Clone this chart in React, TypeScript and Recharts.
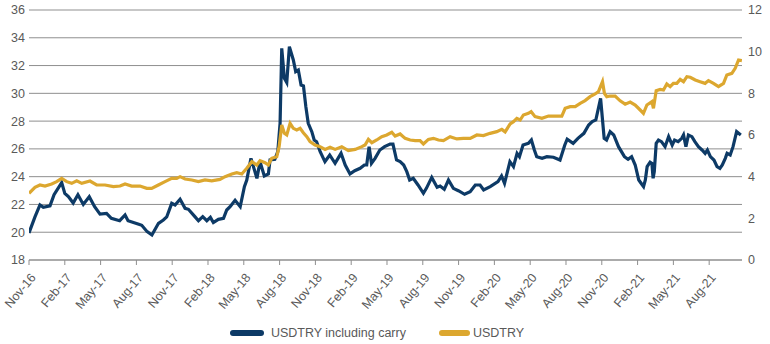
import { CartesianGrid, Line, LineChart, XAxis, YAxis } from "recharts";

// x positions are months since Nov-16
const tickMonths = [0, 3, 6, 9, 12, 15, 18, 21, 24, 27, 30, 33, 36, 39, 42, 45, 48, 51, 54, 57];
const tickLabels = [
  "Nov-16", "Feb-17", "May-17", "Aug-17", "Nov-17", "Feb-18", "May-18", "Aug-18", "Nov-18", "Feb-19",
  "May-19", "Aug-19", "Nov-19", "Feb-20", "May-20", "Aug-20", "Nov-20", "Feb-21", "May-21", "Aug-21",
];
const leftTicks = [18, 20, 22, 24, 26, 28, 30, 32, 34, 36];
const rightTicks = [0, 2, 4, 6, 8, 10, 12];

const carryMonths = [
  0, 0.5, 0.92, 1.2, 1.76, 2.1, 2.74, 3.0, 3.3, 3.7, 4.1, 4.55, 5.05, 5.5, 5.95, 6.5, 6.9, 7.6, 8.05, 8.3,
  9.2, 9.45, 9.9, 10.3, 10.85, 11.26, 11.54, 11.96, 12.24, 12.66, 13.08, 13.36, 13.9, 14.2, 14.56, 14.9, 15.2, 15.45, 15.87, 16.3,
  16.57, 16.85, 17.27, 17.7, 18.05, 18.25, 18.6, 19.1, 19.36, 19.72, 20.06, 20.2, 20.6, 20.85, 21.04, 21.18, 21.4, 21.6, 21.82, 22.15,
  22.35, 22.57, 22.8, 23.0, 23.2, 23.4, 23.7, 23.9, 24.1, 24.4, 24.8, 25.2, 25.65, 26.15, 26.5, 26.9, 27.3, 27.75, 28.1, 28.3,
  28.5, 28.7, 29.0, 29.4, 29.8, 30.26, 30.5, 30.8, 31.1, 31.4, 31.66, 31.9, 32.2, 32.6, 33.05, 33.3, 33.75, 34.2, 34.45, 34.8,
  35.15, 35.56, 35.98, 36.5, 36.97, 37.4, 37.8, 38.1, 38.65, 39.3, 39.6, 39.85, 40.3, 40.6, 40.9, 41.1, 41.4, 41.85, 42.1, 42.35,
  42.55, 43.0, 43.4, 43.95, 44.5, 44.9, 45.1, 45.6, 46.0, 46.5, 46.9, 47.2, 47.5, 47.9, 48.2, 48.4, 48.7, 49.0, 49.4, 49.9,
  50.2, 50.5, 50.8, 51.1, 51.4, 51.5, 51.65, 51.8, 52.05, 52.2, 52.3, 52.4, 52.56, 52.75, 53.0, 53.3, 53.6, 53.9, 54.1, 54.4,
  54.7, 54.85, 55.05, 55.26, 55.55, 55.8, 56.1, 56.4, 56.66, 56.85, 57.1, 57.4, 57.66, 57.9, 58.1, 58.35, 58.5, 58.76, 59.0, 59.3,
  59.65,
];
const carryValues = [
  19.95, 21.1, 21.96, 21.8, 21.9, 22.7, 23.57, 22.8, 22.56, 22.1, 22.7, 22.0, 22.56, 21.84, 21.3, 21.36, 21.0, 20.83, 21.24, 20.83,
  20.57, 20.5, 20.04, 19.8, 20.64, 20.88, 21.1, 22.08, 21.96, 22.37, 21.72, 21.65, 21.12, 20.83, 21.12, 20.83, 21.07, 20.7, 20.93, 21.0,
  21.6, 21.84, 22.3, 21.84, 23.28, 23.76, 25.32, 23.88, 25.08, 24.05, 24.2, 25.2, 25.25, 25.8, 27.84, 33.24, 31.08, 30.77, 33.36, 32.4,
  31.56, 31.68, 30.6, 30.53, 29.04, 27.84, 27.24, 26.64, 26.52, 25.8, 25.08, 25.56, 24.96, 25.68, 24.84, 24.2, 24.43, 24.6, 24.84, 24.84,
  26.16, 24.96, 25.32, 25.92, 26.16, 26.35, 26.35, 25.2, 25.08, 24.84, 24.36, 23.76, 23.88, 23.4, 22.8, 23.16, 23.95, 23.24, 23.33, 23.09,
  23.76, 23.16, 22.99, 22.73, 22.92, 23.4, 23.4, 23.04, 23.28, 23.64, 24.05, 23.52, 25.08, 24.72, 25.68, 25.44, 26.28, 26.4, 26.64, 25.92,
  25.44, 25.32, 25.44, 25.4, 25.2, 26.28, 26.7, 26.4, 26.76, 27.12, 27.72, 27.96, 28.08, 29.64, 26.76, 26.64, 27.24, 27.0, 26.16, 25.44,
  25.25, 25.44, 24.84, 23.76, 23.4, 23.28, 23.76, 24.72, 25.04, 24.96, 23.88, 24.36, 26.4, 26.64, 26.52, 26.16, 26.88, 26.28, 26.64, 26.52,
  26.76, 27.0, 26.16, 27.0, 26.88, 26.52, 26.16, 25.92, 25.68, 25.92, 25.44, 25.2, 24.72, 24.6, 24.84, 25.32, 25.68, 25.56, 26.16, 27.24,
  27.0,
];

const spotMonths = [
  0, 0.5, 0.92, 1.34, 1.9, 2.32, 2.74, 3.16, 3.58, 4.0, 4.42, 5.11, 5.67, 6.37, 7.07, 7.63, 8.05, 8.6, 9.3, 9.87,
  10.28, 10.84, 11.4, 11.96, 12.38, 12.66, 13.08, 13.64, 14.2, 14.75, 15.31, 16.0, 16.43, 17.0, 17.41, 17.83, 18.25, 18.67, 19.09, 19.36,
  19.78, 20.06, 20.34, 20.76, 20.96, 21.18, 21.4, 21.6, 21.88, 22.15, 22.44, 22.72, 22.99, 23.28, 23.55, 23.97, 24.39, 24.81, 25.23, 25.65,
  26.21, 26.76, 27.33, 27.89, 28.16, 28.44, 28.73, 29.14, 29.56, 29.98, 30.4, 30.68, 31.1, 31.52, 31.94, 32.36, 32.77, 33.05, 33.47, 33.89,
  34.31, 34.73, 35.29, 35.85, 36.4, 36.97, 37.53, 38.08, 38.64, 39.2, 39.62, 39.9, 40.32, 40.6, 40.88, 41.16, 41.43, 41.85, 42.08, 42.41,
  42.98, 43.53, 44.09, 44.65, 44.93, 45.35, 45.77, 46.19, 46.6, 47.02, 47.44, 47.72, 48.06, 48.22, 48.42, 48.7, 49.12, 49.54, 49.96, 50.38,
  50.8, 51.22, 51.49, 51.78, 52.2, 52.33, 52.56, 52.89, 53.17, 53.45, 53.73, 54.0, 54.29, 54.57, 54.85, 55.13, 55.41, 55.83, 56.24, 56.66,
  56.94, 57.36, 57.78, 58.2, 58.48, 58.9, 59.18, 59.46, 59.74,
];
const spotValues = [
  3.2, 3.49, 3.6, 3.55, 3.65, 3.76, 3.92, 3.76, 3.68, 3.8, 3.68, 3.79, 3.6, 3.6, 3.52, 3.55, 3.65, 3.55, 3.55, 3.44,
  3.44, 3.6, 3.76, 3.92, 3.92, 4.0, 3.89, 3.84, 3.76, 3.84, 3.8, 3.87, 4.0, 4.13, 4.19, 4.13, 4.4, 4.72, 4.56, 4.77,
  4.67, 4.56, 4.88, 4.96, 5.44, 6.48, 6.08, 6.0, 6.56, 6.32, 6.24, 6.32, 6.11, 5.92, 5.68, 5.52, 5.44, 5.31, 5.41, 5.31,
  5.44, 5.25, 5.31, 5.44, 5.52, 5.79, 5.63, 5.76, 5.92, 6.0, 6.13, 5.95, 6.05, 5.84, 5.76, 5.73, 5.73, 5.57, 5.79, 5.84,
  5.76, 5.73, 5.92, 5.81, 5.84, 5.84, 6.0, 5.97, 6.08, 6.16, 6.27, 6.15, 6.53, 6.64, 6.8, 6.72, 6.96, 7.04, 7.12, 6.88,
  6.8, 6.91, 6.91, 6.91, 7.28, 7.36, 7.36, 7.52, 7.65, 7.84, 7.97, 8.08, 8.56, 8.0, 7.84, 7.87, 7.87, 7.64, 7.48, 7.58,
  7.44, 7.2, 7.04, 7.44, 7.6, 7.28, 8.13, 8.19, 8.16, 8.45, 8.32, 8.48, 8.48, 8.67, 8.56, 8.8, 8.77, 8.64, 8.56, 8.48,
  8.61, 8.48, 8.32, 8.48, 8.88, 8.96, 9.2, 9.6, 9.57,
];

const carryData = carryMonths.map((m, i) => ({ m, v: carryValues[i] }));
const spotData = spotMonths.map((m, i) => ({ m, v: spotValues[i] }));

const NAVY = "#0d3a66";
const GOLD = "#dca72f";
const TEXT = "#595959";
const GRID = "#8f8f8f";
const FONT = "'Liberation Sans', Arial, sans-serif";

function XTick({ x, y, payload }: any) {
  const idx = tickMonths.indexOf(payload.value);
  return (
    <g transform={`translate(${x + 4},${y + 10})`}>
      <text x={0} y={0} dy="0.35em" transform="rotate(-50)" textAnchor="end" fill={TEXT} fontSize={12.5} fontFamily={FONT}>
        {idx >= 0 ? tickLabels[idx] : ""}
      </text>
    </g>
  );
}

const legendItems = [
  { name: "USDTRY including carry", color: NAVY },
  { name: "USDTRY", color: GOLD },
];

export default function App() {
  return (
    <div style={{ position: "absolute", left: 0, top: 0, width: 770, height: 344, fontFamily: FONT }}>
      <LineChart width={770} height={344} margin={{ top: 10, right: 0, bottom: 0, left: 0 }}>
        <CartesianGrid yAxisId="left" vertical={false} stroke={GRID} strokeWidth={1} />
        <XAxis
          type="number"
          dataKey="m"
          domain={[0, 59.75]}
          ticks={tickMonths}
          interval={0}
          height={84}
          stroke={GRID}
          tickSize={5}
          tickMargin={0}
          tick={<XTick />}
          allowDataOverflow
        />
        <YAxis
          yAxisId="left"
          domain={[18, 36]}
          ticks={leftTicks}
          width={29}
          axisLine={false}
          tickLine={false}
          tickSize={4}
          tickMargin={0}
          tick={{ fill: TEXT, fontSize: 12.5, fontFamily: FONT }}
        />
        <YAxis
          yAxisId="right"
          orientation="right"
          domain={[0, 12]}
          ticks={rightTicks}
          width={28}
          axisLine={false}
          tickLine={false}
          tickSize={6}
          tickMargin={0}
          tick={{ fill: TEXT, fontSize: 12.5, fontFamily: FONT }}
        />
        <Line
          yAxisId="left"
          data={carryData}
          dataKey="v"
          name="USDTRY including carry"
          stroke={NAVY}
          strokeWidth={3.2}
          dot={false}
          isAnimationActive={false}
        />
        <Line
          yAxisId="right"
          data={spotData}
          dataKey="v"
          name="USDTRY"
          stroke={GOLD}
          strokeWidth={3.2}
          dot={false}
          isAnimationActive={false}
        />
      </LineChart>
      <div
        style={{
          position: "absolute",
          left: 0,
          top: 323,
          width: 770,
          height: 20,
          display: "flex",
          justifyContent: "center",
          alignItems: "center",
          paddingRight: 16,
          boxSizing: "border-box",
        }}
      >
        {legendItems.map((it, i) => (
          <div key={it.name} style={{ display: "flex", alignItems: "center", marginLeft: i > 0 ? 33 : 0 }}>
            <span style={{ width: i === 0 ? 34 : 31, height: 6, borderRadius: 3, background: it.color, display: "inline-block" }} />
            <span style={{ marginLeft: i === 0 ? 7 : 3, fontSize: 12.5, color: TEXT }}>{it.name}</span>
          </div>
        ))}
      </div>
    </div>
  );
}
